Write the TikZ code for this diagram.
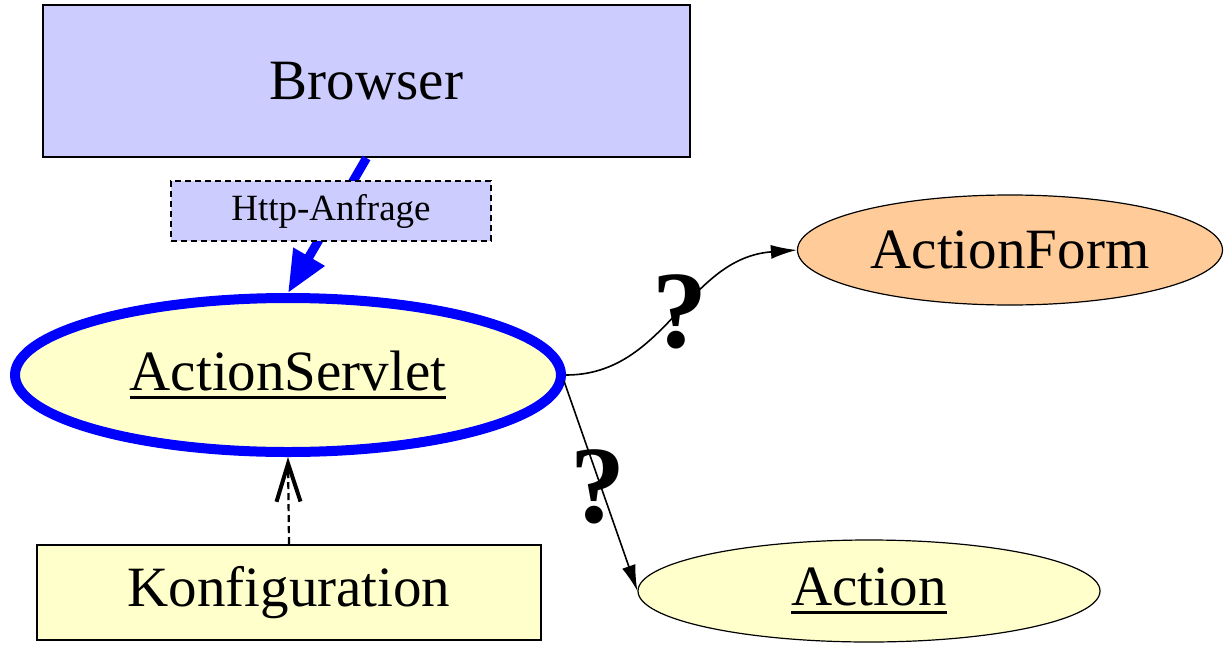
\documentclass[tikz,border=0pt]{standalone}
\usepackage{fontspec}
\setmainfont{Liberation Serif}
\usetikzlibrary{shapes.geometric,arrows.meta,calc}
\definecolor{lav}{HTML}{CCCCFF}
\definecolor{cream}{HTML}{FFFFCC}
\definecolor{peach}{HTML}{FFCC99}
\definecolor{pblue}{HTML}{0000FF}
\newcommand\myul[1]{\setbox0\hbox{#1}\rlap{#1}\raisebox{-9pt}{\rule{\wd0}{3pt}}}
\tikzset{
  big/.style={font=\rmfamily\fontsize{57}{60}\selectfont},
  boxnode/.style={draw=black, line width=2pt, inner sep=0pt, big},
  ellnode/.style={ellipse, draw=black, line width=1.2pt, inner sep=0pt, big},
  qmark/.style={font=\rmfamily\fontsize{110}{110}\selectfont\bfseries, inner sep=0pt},
  conn/.style={line width=1.6pt, -{Latex[length=26pt,width=14pt]}}
}
\begin{document}
\begin{tikzpicture}[x=1pt,y=-1pt]
\useasboundingbox (0,0) rectangle (1225,645);
\node[boxnode, fill=lav, minimum width=647pt, minimum height=152pt] (browser) at (366.5,81) {Browser};
\node[ellnode, draw=pblue, line width=10pt, fill=cream, minimum width=546pt, minimum height=154pt] (servlet) at (288,375) {\myul{ActionServlet}};
\node[ellnode, fill=peach, minimum width=425pt, minimum height=110pt] (form) at (1010,250) {ActionForm};
\node[ellnode, fill=cream, minimum width=462pt, minimum height=102pt] (action) at (869,591) {\myul{Action}};
\node[boxnode, fill=cream, minimum width=504pt, minimum height=95pt] (konf) at (289,592.5) {Konfiguration};
\draw[pblue, line width=9pt, -{Triangle[length=42pt,width=34pt]}] (browser.south) -- (servlet.north);
\node[draw=black, dash pattern=on 6pt off 4pt, line width=2.2pt, fill=lav, minimum width=320pt, minimum height=60pt, inner sep=0pt, font=\rmfamily\fontsize{37}{40}\selectfont] (http) at (331,211) {Http-Anfrage};
\draw[dash pattern=on 7pt off 4pt, line width=2.2pt, -{Straight Barb[length=38pt,width=24pt,line width=4pt]}] (konf.north) -- (servlet.south);
\draw[conn] (servlet.east) .. controls +(100,0) and +(-110,8) .. (form.west);
\draw[conn] ($(servlet.east)+(-2,6)$) -- (action.west);
\node[qmark] (q1) at (680,312) {?};
\node[qmark] (q2) at (598,487) {?};
\end{tikzpicture}
\end{document}
